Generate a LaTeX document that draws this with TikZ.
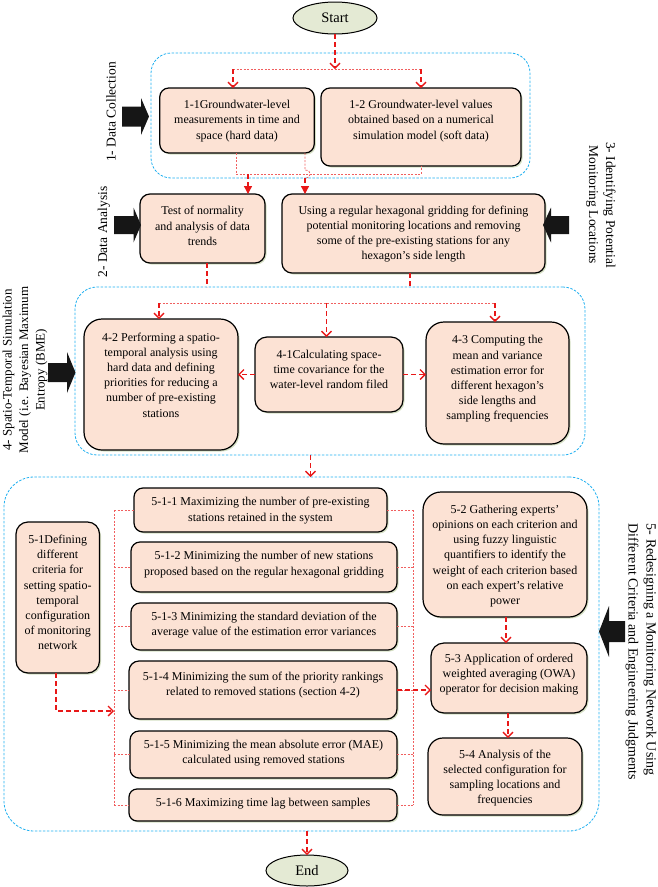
\documentclass[tikz,border=0pt]{standalone}
\usepackage{fontspec}
\setmainfont{Liberation Serif}
\usetikzlibrary{shapes.geometric,arrows.meta,shadows}
\definecolor{boxfill}{RGB}{252,226,212}
\definecolor{ovalfill}{RGB}{228,234,212}
\definecolor{contblue}{RGB}{30,175,240}
\definecolor{flowred}{RGB}{232,24,24}
\definecolor{weakred}{RGB}{240,95,95}
\definecolor{shadowc}{RGB}{214,224,196}
\definecolor{blkc}{RGB}{22,22,22}
\tikzset{
 box/.style={draw=black, line width=1.2pt, fill=boxfill, inner sep=0pt, outer sep=0pt,
   drop shadow={shadow xshift=1.5pt, shadow yshift=-1.5pt, fill=shadowc, opacity=1}},
 txt/.style={align=center, inner sep=0pt, font=\fontsize{12}{15.2}\selectfont},
 cont/.style={draw=contblue, line width=0.8pt, dash pattern=on 2.5pt off 1.5pt, inner sep=0pt, outer sep=0pt},
 oval/.style={ellipse, draw=black, line width=1pt, fill=ovalfill, inner sep=0pt, outer sep=0pt, font=\fontsize{14.5}{16}\selectfont},
 flow/.style={draw=flowred, line width=1.3pt, dash pattern=on 5pt off 3pt},
 vhead/.style={-{Straight Barb[length=5pt,width=10pt]}},
 thead/.style={-{Triangle[length=8pt,width=8pt]}},
 weak/.style={draw=weakred, line width=0.8pt, dash pattern=on 2pt off 1.5pt},
 sidelbl/.style={align=center, inner sep=0pt, font=\fontsize{13.5}{17}\selectfont},
 blk/.style={fill=blkc},
}
\newcommand{\mkbox}[8][9]{%
 \node[box, rounded corners=#1pt, minimum width=#5pt, minimum height=#6pt] (#2) at (#3,#4) {};
 \node[txt] (#2t) at (#3,#7) {#8};}
\newcommand{\blkarrow}[6]{%
 \fill[blk] ({#1-(#3)},{#2-#5}) -- ({#1-(#4)},{#2-#5}) -- ({#1-(#4)},{#2-#6}) -- (#1,#2)
   -- ({#1-(#4)},{#2+#6}) -- ({#1-(#4)},{#2+#5}) -- ({#1-(#3)},{#2+#5}) -- cycle;}
\begin{document}
\begin{tikzpicture}[x=1pt,y=-1pt]
\useasboundingbox (0,0) rectangle (658,887);
% containers
\node[cont, rounded corners=20pt, minimum width=379pt, minimum height=125pt] (c1) at (340.5,115.5) {};
\node[cont, rounded corners=22pt, minimum width=510pt, minimum height=168pt] (c4) at (330,371) {};
\node[cont, rounded corners=30pt, minimum width=595pt, minimum height=354pt] (c5) at (301.5,654) {};
% terminals
\node[oval, minimum width=84pt, minimum height=32pt] (start) at (335,18) {Start};
\node[oval, minimum width=82pt, minimum height=31pt] (end) at (307,870.5) {End};
% boxes
\mkbox[9]{b11}{237}{120.5}{154.5}{65}{121}{1-1Groundwater-level\\measurements in time and\\space (hard data)}
\mkbox[9]{b12}{421}{127}{200}{78}{121}{1-2 Groundwater-level values\\obtained based on a numerical\\simulation model (soft data)}
\mkbox[10]{btest}{202.5}{228.5}{125}{69}{226}{Test of normality\\and analysis of data\\trends}
\mkbox[10]{busing}{413.5}{233.5}{263}{79}{234}{Using a regular hexagonal gridding for defining\\potential monitoring locations and removing\\some of the pre-existing stations for any\\hexagon’s side length}
\mkbox[18]{b42}{161}{384.5}{154}{131}{375}{4-2 Performing a spatio-\\temporal analysis using\\hard data and defining\\priorities for reducing a\\number of pre-existing\\stations}
\mkbox[12]{b41}{329}{374.5}{148}{75}{369.5}{4-1Calculating space-\\time covariance for the\\water-level random filed}
\mkbox[18]{b43}{497.5}{383}{143}{122}{379}{4-3 Computing the\\mean and variance\\estimation error for\\different hexagon’s\\side lengths and\\sampling frequencies}
\mkbox[12]{b51}{57.75}{597.5}{83.5}{151}{592.5}{5-1Defining\\different\\criteria for\\setting spatio-\\temporal\\configuration\\of monitoring\\network}
\mkbox[9]{b511}{260.5}{510}{253}{44}{510.5}{5-1-1 Maximizing the number of pre-existing\\stations retained in the system}
\mkbox[9]{b512}{264}{567}{266}{50}{564.5}{5-1-2 Minimizing the number of new stations\\proposed based on the regular hexagonal gridding}
\mkbox[9]{b513}{264}{626.5}{266}{47}{625}{5-1-3 Minimizing the standard deviation of the\\average value of the estimation error variances}
\mkbox[10]{b514}{263}{690}{268}{58}{685}{5-1-4 Minimizing the sum of the priority rankings\\related to removed stations (section 4-2)}
\mkbox[9]{b515}{263.5}{754.5}{267}{47}{753.5}{5-1-5 Minimizing the mean absolute error (MAE)\\calculated using removed stations}
\mkbox[8]{b516}{263}{805}{268}{32}{804}{5-1-6 Maximizing time lag between samples}
\mkbox[18]{b52}{505}{554.5}{164}{125}{556}{5-2 Gathering experts’\\opinions on each criterion and\\using fuzzy linguistic\\quantifiers to identify the\\weight of each criterion based\\on each expert’s relative\\power}
\mkbox[13]{b53}{509}{678}{156}{70}{674.5}{5-3 Application of ordered\\weighted averaging (OWA)\\operator for decision making}
\mkbox[15]{b54}{505}{776.5}{154}{77}{778}{5-4 Analysis of the\\selected configuration for\\sampling locations and\\frequencies}
% side labels
\node[sidelbl, rotate=90] (l1) at (111,112) {1- Data Collection};
\node[sidelbl, rotate=90] (l2) at (104,232) {2- Data Analysis};
\node[sidelbl, rotate=-90] (l3) at (601,205) {3- Identifying Potential\\Monitoring Locations};
\node[sidelbl, rotate=90, font=\fontsize{13}{16.5}\selectfont] (l4) at (25,370) {4- Spatio-Temporal Simulation\\Model (i.e. Bayesian Maximum\\Entropy (BME)};
\node[sidelbl, rotate=-90, align=left, font=\fontsize{14}{18}\selectfont] (l5) at (641,652) {5- Redesigning a Monitoring Network Using\\Different Criteria and Engineering Judgments};
% block arrows
\blkarrow{149}{116.5}{27}{8}{10}{18.5}
\blkarrow{141}{225}{27}{7.5}{9}{17.5}
\blkarrow{543}{225}{-26}{-8}{9}{17.5}
\blkarrow{75.5}{372.5}{27.5}{8.5}{9.5}{20.5}
\blkarrow{599}{631.5}{-26}{-10}{10.5}{25.5}
% coordinates
\coordinate (j1) at (335,69);
\coordinate (j1l) at (233,69);
\coordinate (j1r) at (421,69);
\coordinate (j2a) at (236,174);
\coordinate (j2b) at (421,174);
\coordinate (j2c) at (248,174);
\coordinate (hA) at (305,170);
\coordinate (hB) at (305,178);
\coordinate (k1) at (207,287);
\coordinate (k2) at (410,288);
\coordinate (j4) at (326.5,303);
\coordinate (j4l) at (159,303);
\coordinate (j4r) at (495,303);
\coordinate (m1) at (310.5,466);
\coordinate (bl1) at (114,510);
\coordinate (bl2) at (114,805);
\coordinate (br1) at (413,510);
\coordinate (br2) at (413,805);
\coordinate (n1) at (56,711);
\coordinate (p1) at (506,630);
\coordinate (p2) at (508,725);
% connectors: top
\draw[flow, vhead] (start.south) -- (j1);
\draw[weak] (j1l) -- (j1r);
\draw[flow, vhead] (j1l) -- (j1l |- b11.north);
\draw[flow, vhead] (j1r) -- (j1r |- b12.north);
\draw[weak] (b11.south -| j2a) -- (j2a) -- (j2b) -- (b12.south -| j2b);
\draw[flow, thead] (j2c) -- (j2c |- btest.north);
\draw[weak] (b11.south -| hA) -- (hA) .. controls +(7,0) and +(7,0) .. (hB);
\draw[flow, thead] (hB) -- (hB |- busing.north);
\draw[flow] (btest.south -| k1) -- (k1);
\draw[flow] (busing.south -| k2) -- (k2);
% section 4
\draw[weak] (j4l) -- (j4r);
\draw[flow, vhead] (j4l) -- (j4l |- b42.north);
\draw[flow, vhead] (j4) -- (j4 |- b41.north);
\draw[flow, vhead] (j4r) -- (j4r |- b43.north);
\draw[flow, vhead] (b41.west) -- (b41.west -| b42.east);
\draw[flow, vhead] (b41.east) -- (b41.east -| b43.west);
\draw[flow, vhead] (c4.south -| m1) -- (c5.north -| m1);
% section 5
\draw[weak] (bl1) -- (bl2);
\draw[weak] (br1) -- (br2);
\foreach \b in {b511,b512,b513,b514,b515,b516}{
  \draw[weak] (\b.west -| bl1) -- (\b.west);
  \draw[weak] (\b.east) -- (\b.east -| br1);
}
\draw[flow, vhead] (b51.south -| n1) -- (n1) -- (n1 -| bl1);
\draw[flow, vhead] (b514.east) -- (b514.east -| b53.west);
\draw[flow, vhead] (b52.south -| p1) -- (b53.north -| p1);
\draw[flow, vhead] (b53.south -| p2) -- (b54.north -| p2);
\draw[flow, vhead] (c5.south -| end.north) -- (end.north);
\end{tikzpicture}
\end{document}
